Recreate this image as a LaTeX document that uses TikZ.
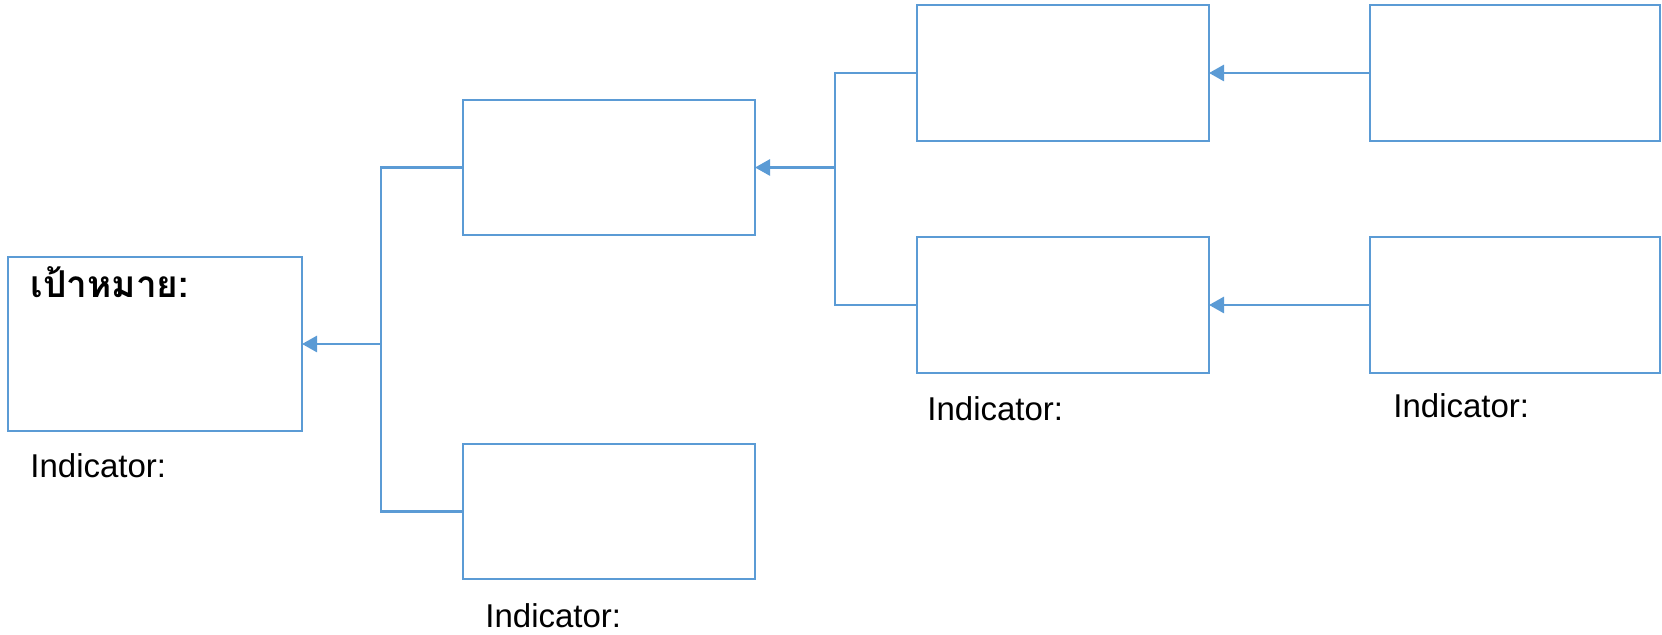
\documentclass[tikz,border=0pt]{standalone}
\usepackage{fontspec}
\setmainfont{Liberation Sans}
\newfontfamily\thaifont[Script=Thai]{Loma}
\usetikzlibrary{arrows.meta}
\definecolor{lblue}{HTML}{5B9BD5}
\tikzset{
  box/.style={draw=lblue, line width=0.85pt, rectangle, inner sep=0pt, outer sep=0pt},
  conn/.style={draw=lblue, line width=1.4pt},
  arr/.style={conn, -{Triangle[length=7.5pt,width=8pt]}},
  lbl/.style={anchor=base west, inner sep=0pt, font=\fontsize{16.5pt}{20pt}\selectfont},
  thl/.style={anchor=base west, inner sep=0pt, font=\fontsize{18.5pt}{22pt}\selectfont\thaifont\bfseries}
}
\begin{document}
\begin{tikzpicture}[x=0.5pt,y=-0.5pt]
\useasboundingbox (0,0) rectangle (1662,635);
% boxes
\node[box, minimum width=147pt, minimum height=87pt] (goal) at (155,344) {};
\node[box, minimum width=146pt, minimum height=67.5pt] (A) at (609,167.5) {};
\node[box, minimum width=146pt, minimum height=67.5pt] (B) at (609,511.5) {};
\node[box, minimum width=146pt, minimum height=68pt] (C) at (1063,73) {};
\node[box, minimum width=146pt, minimum height=68pt] (D) at (1063,305) {};
\node[box, minimum width=145pt, minimum height=68pt] (E) at (1515,73) {};
\node[box, minimum width=145pt, minimum height=68pt] (F) at (1515,305) {};
% junctions
\coordinate (j1) at (381,344);
\coordinate (j2) at (835,167.5);
% connectors
\draw[conn] (A.west) -- (A.west -| j1) -- (B.west -| j1) -- (B.west);
\draw[arr] (j1) -- (goal.east);
\draw[conn] (C.west) -- (C.west -| j2) -- (D.west -| j2) -- (D.west);
\draw[arr] (j2) -- (A.east);
\draw[arr] (E.west) -- (C.east);
\draw[arr] (F.west) -- (D.east);
% labels
\node[thl] (goaltitle) at (30,298) {เป้าหมาย:};
\node[lbl] (ind1) at (30,478) {Indicator:};
\node[lbl] (ind2) at (485,628) {Indicator:};
\node[lbl] (ind3) at (927,421) {Indicator:};
\node[lbl] (ind4) at (1393,418) {Indicator:};
\end{tikzpicture}
\end{document}
